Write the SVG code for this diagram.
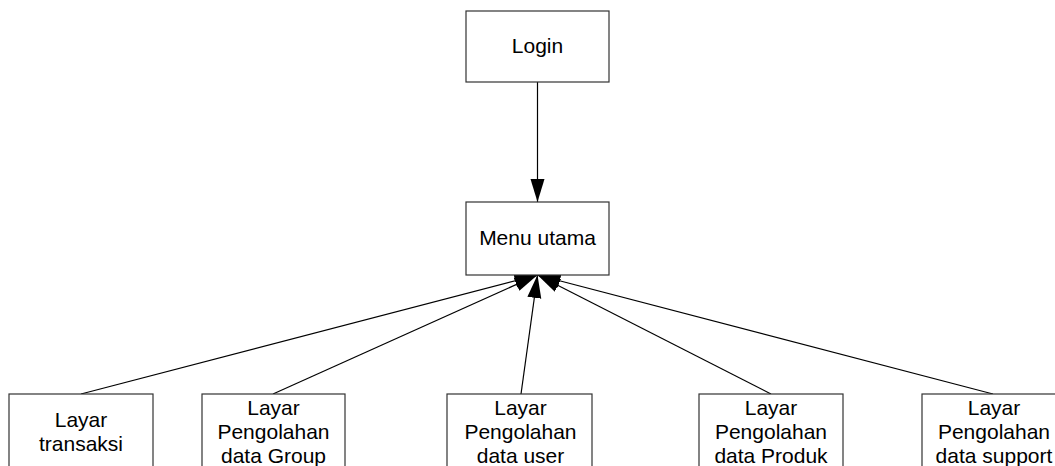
<svg xmlns="http://www.w3.org/2000/svg" width="1055" height="466" viewBox="0 0 1055 466">
<defs>
<marker id="arr" markerUnits="userSpaceOnUse" markerWidth="24" markerHeight="16" viewBox="0 0 24 16" refX="23" refY="8" orient="auto">
<path d="M0,1 L23,8 L0,15 Z" fill="#000"/>
</marker>
</defs>
<style>
.box{fill:#fff;stroke:#333;stroke-width:1.2}
.t{font-family:"Liberation Sans",Arial,sans-serif;font-size:21px;fill:#000;text-anchor:middle}
.c{stroke:#000;stroke-width:1.2;fill:none}
</style>
<rect width="1055" height="466" fill="#fff"/>
<g id="connectors">
<line class="c" x1="537.5" y1="82" x2="537.5" y2="202" marker-end="url(#arr)"/>
<line class="c" x1="81" y1="394" x2="537.5" y2="275" marker-end="url(#arr)"/>
<line class="c" x1="273" y1="394" x2="537.5" y2="275" marker-end="url(#arr)"/>
<line class="c" x1="521" y1="394" x2="537.5" y2="275" marker-end="url(#arr)"/>
<line class="c" x1="771" y1="394" x2="537.5" y2="275" marker-end="url(#arr)"/>
<line class="c" x1="993" y1="394" x2="537.5" y2="275" marker-end="url(#arr)"/>
</g>
<g id="login">
<rect class="box" x="466" y="11" width="143" height="71"/>
<text class="t" x="537.5" y="53">Login</text>
</g>
<g id="menu">
<rect class="box" x="466" y="202" width="143" height="73"/>
<text class="t" x="537.5" y="245">Menu utama</text>
</g>
<g id="transaksi">
<rect class="box" x="9" y="394" width="144" height="90"/>
<text class="t" x="81" y="427">Layar</text>
<text class="t" x="81" y="451">transaksi</text>
</g>
<g id="group">
<rect class="box" x="202" y="394" width="143" height="90"/>
<text class="t" x="273.5" y="415">Layar</text>
<text class="t" x="273.5" y="439">Pengolahan</text>
<text class="t" x="273.5" y="463">data Group</text>
</g>
<g id="user">
<rect class="box" x="447" y="394" width="145" height="90"/>
<text class="t" x="520.5" y="415">Layar</text>
<text class="t" x="520.5" y="439">Pengolahan</text>
<text class="t" x="520.5" y="463">data user</text>
</g>
<g id="produk">
<rect class="box" x="699" y="394" width="144" height="90"/>
<text class="t" x="771" y="415">Layar</text>
<text class="t" x="771" y="439">Pengolahan</text>
<text class="t" x="771" y="463">data Produk</text>
</g>
<g id="support">
<rect class="box" x="922" y="394" width="144" height="90"/>
<text class="t" x="994" y="415">Layar</text>
<text class="t" x="994" y="439">Pengolahan</text>
<text class="t" x="994" y="463">data support</text>
</g>
</svg>
